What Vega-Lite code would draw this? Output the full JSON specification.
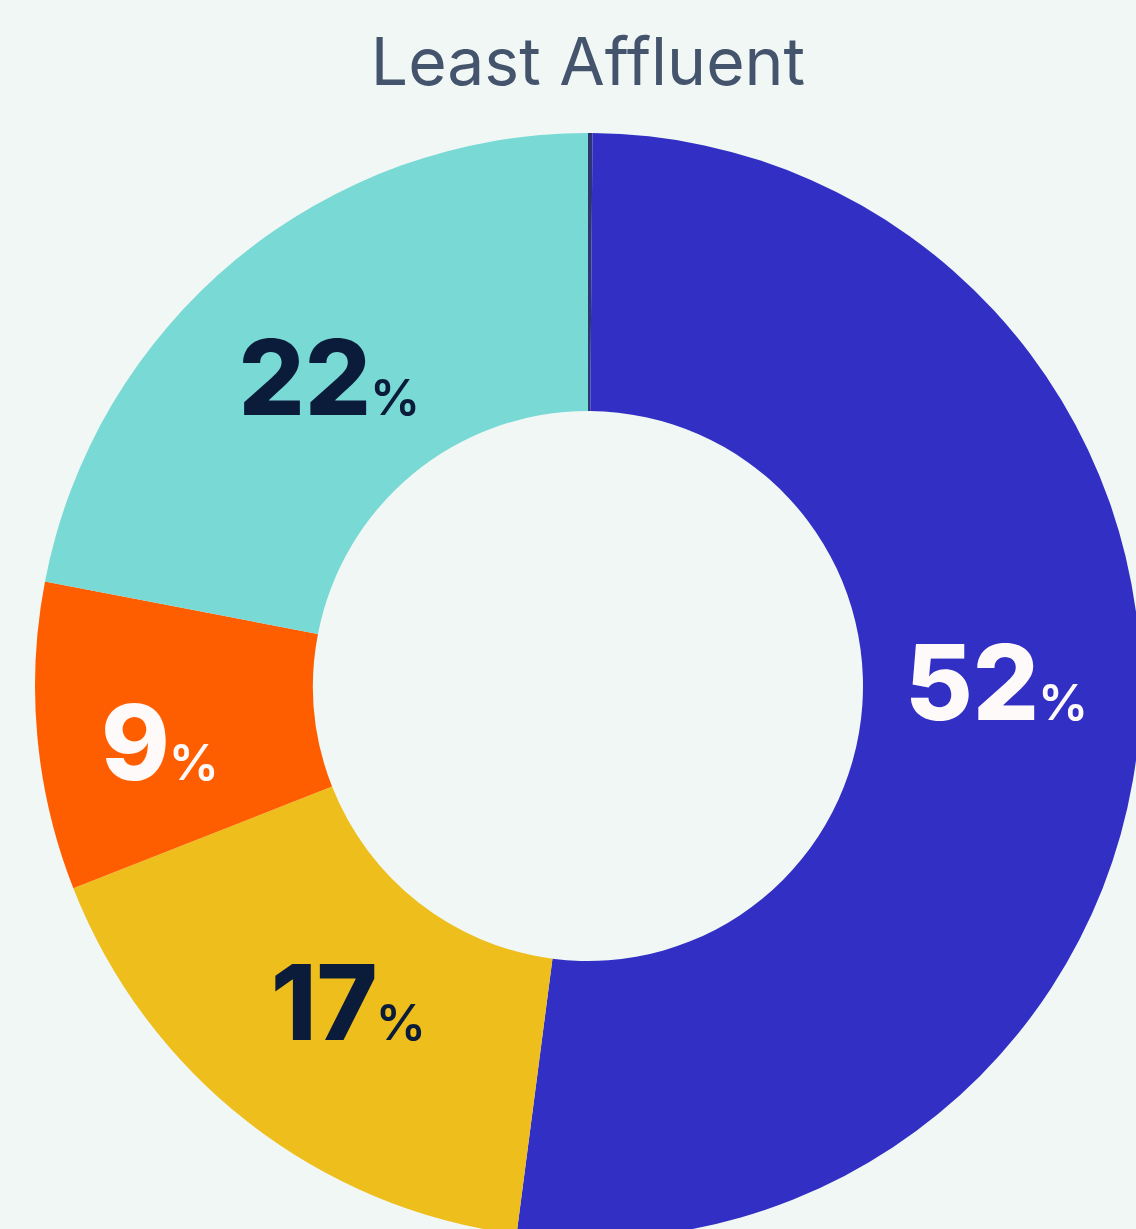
{
  "$schema": "https://vega.github.io/schema/vega-lite/v6.json",
  "width": 1096,
  "height": 1086,
  "autosize": {"type": "none"},
  "padding": {"left": 40, "top": 143, "right": 0, "bottom": 0},
  "background": "#f1f7f5",
  "config": {"view": {"stroke": null}},
  "title": {"text": "Least Affluent", "font": "Inter", "fontSize": 66, "fontWeight": 400, "color": "#44546d", "offset": 34, "frame": "group", "anchor": "middle"},
  "data": {"values": [
    {"segment": "Other", "rank": 0, "share": 0.13},
    {"segment": "Segment 1", "rank": 1, "share": 52},
    {"segment": "Segment 2", "rank": 2, "share": 17},
    {"segment": "Segment 3", "rank": 3, "share": 9},
    {"segment": "Segment 4", "rank": 4, "share": 22}
  ]},
  "encoding": {
    "theta": {"field": "share", "type": "quantitative", "stack": true},
    "order": {"field": "rank", "type": "quantitative"}
  },
  "layer": [
    {
      "mark": {"type": "arc", "innerRadius": 275, "outerRadius": 553},
      "encoding": {
        "color": {"field": "segment", "type": "nominal", "legend": null,
          "scale": {"domain": ["Other", "Segment 1", "Segment 2", "Segment 3", "Segment 4"],
                    "range": ["#2d3672", "#3230c4", "#edbe1c", "#ff5e00", "#79d9d5"]}}
      }
    },
    {
      "mark": {"type": "text", "radius": 405, "font": "Inter", "fontSize": 104, "fontWeight": 800, "align": "right", "baseline": "alphabetic", "dx": 47, "dy": 6, "color": "#fffafa"},
      "encoding": {
        "text": {"condition": {"test": "datum.share == 52", "field": "share", "type": "quantitative"}, "value": ""}
      }
    },
    {
      "mark": {"type": "text", "radius": 405, "font": "Inter", "fontSize": 50, "fontWeight": 600, "align": "left", "baseline": "alphabetic", "dx": 46, "dy": 6, "color": "#fffafa"},
      "encoding": {
        "text": {"condition": {"test": "datum.share == 52", "value": "%"}, "value": ""}
      }
    },
    {
      "mark": {"type": "text", "radius": 405, "font": "Inter", "fontSize": 104, "fontWeight": 800, "align": "right", "baseline": "alphabetic", "dx": 41, "dy": 41, "color": "#0b1c3a"},
      "encoding": {
        "text": {"condition": {"test": "datum.share == 22", "field": "share", "type": "quantitative"}, "value": ""}
      }
    },
    {
      "mark": {"type": "text", "radius": 405, "font": "Inter", "fontSize": 50, "fontWeight": 600, "align": "left", "baseline": "alphabetic", "dx": 40, "dy": 41, "color": "#0b1c3a"},
      "encoding": {
        "text": {"condition": {"test": "datum.share == 22", "value": "%"}, "value": ""}
      }
    },
    {
      "mark": {"type": "text", "radius": 405, "font": "Inter", "fontSize": 104, "fontWeight": 800, "align": "right", "baseline": "alphabetic", "dx": 39, "dy": 35, "color": "#0b1c3a"},
      "encoding": {
        "text": {"condition": {"test": "datum.share == 17", "field": "share", "type": "quantitative"}, "value": ""}
      }
    },
    {
      "mark": {"type": "text", "radius": 405, "font": "Inter", "fontSize": 50, "fontWeight": 600, "align": "left", "baseline": "alphabetic", "dx": 37, "dy": 35, "color": "#0b1c3a"},
      "encoding": {
        "text": {"condition": {"test": "datum.share == 17", "value": "%"}, "value": ""}
      }
    },
    {
      "mark": {"type": "text", "radius": 405, "font": "Inter", "fontSize": 104, "fontWeight": 800, "align": "right", "baseline": "alphabetic", "dx": -15, "dy": 57, "color": "#fffafa"},
      "encoding": {
        "text": {"condition": {"test": "datum.share == 9", "field": "share", "type": "quantitative"}, "value": ""}
      }
    },
    {
      "mark": {"type": "text", "radius": 405, "font": "Inter", "fontSize": 50, "fontWeight": 600, "align": "left", "baseline": "alphabetic", "dx": -16, "dy": 57, "color": "#fffafa"},
      "encoding": {
        "text": {"condition": {"test": "datum.share == 9", "value": "%"}, "value": ""}
      }
    }
  ]
}
